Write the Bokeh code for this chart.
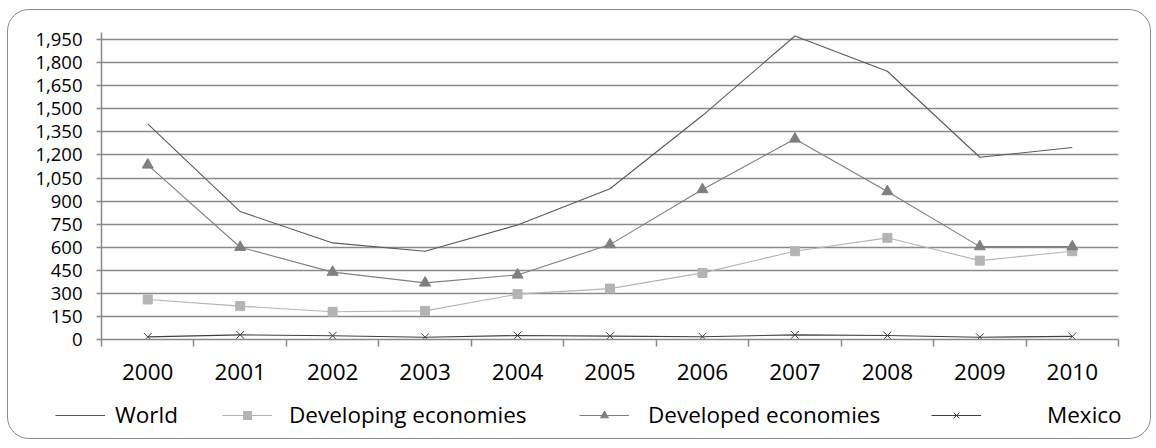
from bokeh.plotting import figure
from bokeh.layouts import column, row
from bokeh.models import (FixedTicker, NumeralTickFormatter, Legend, LegendItem, Range1d)
from bokeh.embed import file_html
from bokeh.resources import INLINE

years = [2000, 2001, 2002, 2003, 2004, 2005, 2006, 2007, 2008, 2009, 2010]
year_labels = ["2000", "2001", "2002", "2003", "2004", "2005", "2006", "2007", "2008", "2009", "2010"]
world = [1402, 832, 628, 574, 745, 980, 1456, 1973, 1744, 1185, 1248]
developing = [260, 217, 180, 186, 295, 331, 433, 574, 661, 513, 574]
developed = [1135, 600, 438, 368, 420, 617, 975, 1304, 962, 604, 604]
mexico = [17, 30, 24, 15, 26, 22, 18, 30, 26, 15, 20]
y_ticks = [0, 150, 300, 450, 600, 750, 900, 1050, 1200, 1350, 1500, 1650, 1800, 1950]
series_names = ["World", "Developing economies", "Developed economies", "Mexico"]

FONT = "Open Sans"
GRID = "#8a8a8a"
C_WORLD = "#5a5a5a"
C_DEVING = "#b4b4b4"
C_DEVED = "#7f7f7f"
C_MEX = "#404040"

W = 1142
p = figure(width=W, height=382, output_backend="svg", toolbar_location=None,
           x_range=Range1d(years[0] - 0.5, years[-1] + 0.5), y_range=Range1d(0, 1996),
           min_border_left=93, min_border_right=32, min_border_top=22, min_border_bottom=53)
p.outline_line_color = None
p.background_fill_color = "white"
p.border_fill_color = None

# x axis
p.xaxis.ticker = FixedTicker(ticks=years, minor_ticks=[y - 0.5 for y in years] + [years[-1] + 0.5])
p.xaxis.major_label_overrides = {y: l for y, l in zip(years, year_labels)}
p.xaxis.major_tick_out = 0
p.xaxis.major_tick_in = 0
p.xaxis.minor_tick_out = 7
p.xaxis.minor_tick_in = 0
p.xaxis.minor_tick_line_color = GRID
p.xaxis.minor_tick_line_width = 1.5
p.xaxis.axis_line_color = GRID
p.xaxis.axis_line_width = 1.5
p.xaxis.major_label_text_font = FONT
p.xaxis.major_label_text_font_size = "22.5px"
p.xaxis.major_label_text_color = "black"
p.xaxis.major_label_standoff = 17
p.xgrid.grid_line_color = None

# y axis
p.yaxis.ticker = FixedTicker(ticks=y_ticks, minor_ticks=[])
p.yaxis.formatter = NumeralTickFormatter(format="0,0")
p.yaxis.major_tick_out = 5
p.yaxis.major_tick_in = 0
p.yaxis.major_tick_line_color = GRID
p.yaxis.major_tick_line_width = 1.5
p.yaxis.axis_line_color = GRID
p.yaxis.axis_line_width = 1.5
p.yaxis.major_label_text_font = FONT
p.yaxis.major_label_text_font_size = "18.5px"
p.yaxis.major_label_text_color = "black"
p.yaxis.major_label_standoff = 14
p.ygrid.grid_line_color = GRID
p.ygrid.grid_line_width = 1.6

# series
p.line(years, world, line_color=C_WORLD, line_width=1.1)
p.line(years, developing, line_color=C_DEVING, line_width=1.1)
p.scatter(years, developing, marker="square", size=9, fill_color=C_DEVING, line_color=C_DEVING)
p.line(years, developed, line_color=C_DEVED, line_width=1.1)
p.scatter(years, developed, marker="triangle", size=11, fill_color=C_DEVED, line_color=C_DEVED)
p.line(years, mexico, line_color=C_MEX, line_width=1.1)
p.scatter(years, mexico, marker="x", size=11, line_color=C_MEX, line_width=1)

# legend strip (separate figure so the legend is not clipped by the plot frame)
lg_fig = figure(width=W, height=46, output_backend="svg", toolbar_location=None,
                min_border=0, x_axis_type=None, y_axis_type=None,
                x_range=Range1d(0, 1), y_range=Range1d(0, 1))
lg_fig.outline_line_color = None
lg_fig.background_fill_color = None
lg_fig.border_fill_color = None
lg_fig.grid.visible = False

nan = float("nan")
def src():
    return dict(x=[nan], y=[nan])

l_world = [lg_fig.line(x="x", y="y", source=src(), line_color=C_WORLD, line_width=1.1)]
l_deving = [lg_fig.line(x="x", y="y", source=src(), line_color=C_DEVING, line_width=1.1),
            lg_fig.scatter(x="x", y="y", source=src(), marker="square", size=9,
                           fill_color=C_DEVING, line_color=C_DEVING)]
l_deved = [lg_fig.line(x="x", y="y", source=src(), line_color=C_DEVED, line_width=1.1),
           lg_fig.scatter(x="x", y="y", source=src(), marker="triangle", size=11,
                          fill_color=C_DEVED, line_color=C_DEVED)]
l_mex = [lg_fig.line(x="x", y="y", source=src(), line_color=C_MEX, line_width=1.1),
         lg_fig.scatter(x="x", y="y", source=src(), marker="x", size=11,
                        line_color=C_MEX, line_width=1)]

# legend x offsets relative to the strip's left edge
placements = [(47, 10), (214, 17), (571, 19), (923, 66)]
for name, rends, (x, standoff) in zip(series_names, [l_world, l_deving, l_deved, l_mex], placements):
    lg = Legend(items=[LegendItem(label=name, renderers=rends)], location=(x, 8),
                orientation="horizontal", glyph_width=50, glyph_height=20,
                label_standoff=standoff, padding=0, margin=0, spacing=0,
                border_line_color=None, background_fill_alpha=0,
                label_text_font=FONT, label_text_font_size="22.5px", label_text_color="black",
                label_height=30)
    lg_fig.add_layout(lg, "center")

layout = column(p, row(lg_fig, spacing=0), spacing=0)
layout.styles = {"margin-left": "7px", "margin-top": "9px", "border": "1.5px solid #8a8a8a",
                 "border-radius": "22px", "box-sizing": "border-box", "background": "white"}

open("out.html", "w").write(file_html(layout, INLINE))
